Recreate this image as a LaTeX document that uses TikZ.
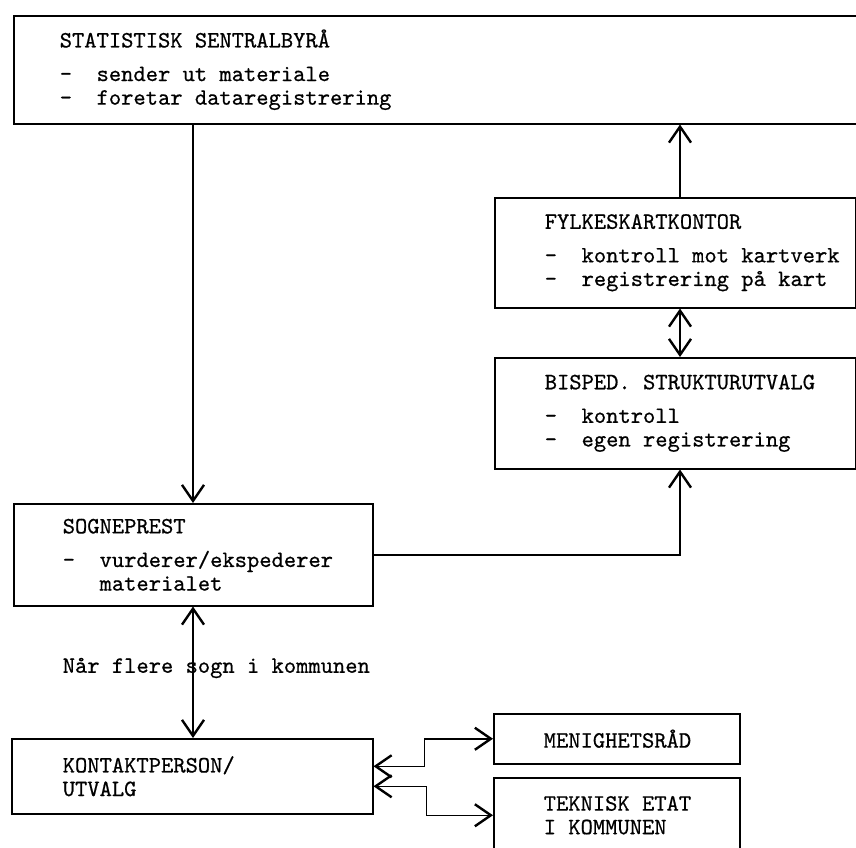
\documentclass[tikz,border=0pt]{standalone}
\usepackage{fontspec}
\setmonofont[FakeBold=0.6]{lmmono10-regular.otf}
\usepackage{tikz}
\usetikzlibrary{arrows.meta}
\usetikzlibrary{calc}

\begin{document}
\begin{tikzpicture}[x=0.5pt, y=-0.5pt, line width=0.75pt,
	>={Straight Barb[length=8pt,width=11pt,line width=1.2pt]},
	box/.style={draw, anchor=north west, inner sep=0pt},
	txt/.style={anchor=west, align=left, inner sep=0pt, font=\fontsize{11.7}{11.8}\selectfont\ttfamily}]
	\useasboundingbox (0,0) rectangle (856,847);
	
	\node[box, minimum width=433.5pt, minimum height=54pt] (ssb) at (13,15) {};
	\node[box, minimum width=180.5pt, minimum height=55pt] (fylke) at (494,197) {};
	\node[box, minimum width=180.5pt, minimum height=55.5pt] (bisped) at (494,357) {};
	\node[box, minimum width=179.5pt, minimum height=51pt] (sogn) at (13,503) {};
	\node[box, minimum width=180.5pt, minimum height=37.5pt] (kontakt) at (11,738) {};
	\node[box, minimum width=123pt, minimum height=25pt] (menighet) at (493,713) {};
	\node[box, minimum width=123pt, minimum height=37.5pt] (teknisk) at (493,777) {};
	
	\node[txt] (ssbtxt) at ([xshift=23pt]ssb.west) {STATISTISK SENTRALBYRÅ\\[5pt]-~~sender ut materiale\\-~~foretar dataregistrering};
	\node[txt] (fylketxt) at ([xshift=25pt]fylke.west) {FYLKESKARTKONTOR\\[5pt]-~~kontroll mot kartverk\\-~~registrering på kart};
	\node[txt] (bispedtxt) at ([xshift=25pt]bisped.west) {BISPED. STRUKTURUTVALG\\[5pt]-~~kontroll\\-~~egen registrering};
	\node[txt] (sogntxt) at ([xshift=24.5pt]sogn.west) {SOGNEPREST\\[5pt]-~~vurderer/ekspederer\\\phantom{-~~}materialet};
	\node[txt] (kontakttxt) at ([xshift=25.5pt]kontakt.west) {KONTAKTPERSON/\\UTVALG};
	\node[txt] (menighettxt) at ([xshift=25pt]menighet.west) {MENIGHETSRÅD};
	\node[txt] (teknisktxt) at ([xshift=25pt]teknisk.west) {TEKNISK ETAT\\I KOMMUNEN};
	\node[txt] (cond) at (62,668) {Når flere sogn i kommunen};
	
	\coordinate (colL) at (193,0);
	\coordinate (colR) at (680,0);
	
	\draw[->] (ssb.south -| colL) -- (sogn.north -| colL);
	\draw[->] (fylke.north -| colR) -- (ssb.south -| colR);
	\draw[<->] (fylke.south -| colR) -- (bisped.north -| colR);
	\draw[->] (sogn.east) -| (bisped.south -| colR);
	\draw[<->] (sogn.south -| colL) -- (kontakt.north -| colL);
	\draw[<->] ([yshift=5pt]kontakt.east) -- ++(51,0) |- (menighet.west);
	\draw[<->] ([yshift=-5pt]kontakt.east) -- ++(53,0) |- (teknisk.west);
\end{tikzpicture}
\end{document}
